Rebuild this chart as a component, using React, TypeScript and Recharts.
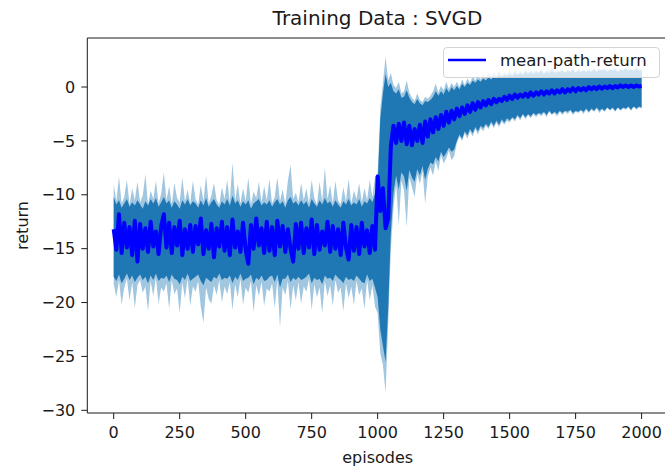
import { ComposedChart, Area, Line, XAxis, YAxis, Legend, Label, ReferenceLine } from 'recharts';

// episodes are logged every 10 steps, 0..2000
const EPISODE_STEP = 10;

// mean return per logged episode (rows of 100 episodes)
const meanReturn = [
  -13.2, -15.1, -11.8, -15.4, -12.6, -14.9, -13.0, -15.6, -12.4, -16.2,
  -12.7, -15.0, -13.1, -15.3, -12.5, -14.8, -13.4, -15.5, -12.9, -11.8,
  -14.9, -12.6, -15.4, -13.0, -14.7, -12.4, -15.6, -13.2, -15.0, -12.8,
  -15.3, -12.9, -14.6, -12.2, -15.5, -13.3, -15.0, -12.7, -15.8, -13.1,
  -14.8, -12.5, -15.2, -13.0, -15.6, -12.3, -14.9, -13.4, -15.3, -12.6,
  -15.1, -16.4, -12.8, -15.0, -12.2, -14.7, -13.1, -15.4, -12.5, -15.2,
  -13.0, -15.6, -12.4, -14.8, -12.9, -15.3, -13.2, -15.0, -16.2, -12.7,
  -15.0, -12.6, -15.4, -13.1, -14.9, -12.3, -15.5, -12.8, -15.1, -13.4,
  -14.7, -12.5, -15.3, -12.9, -15.0, -13.2, -15.6, -12.6, -14.9, -16.0,
  -12.8, -15.2, -13.0, -15.5, -12.6, -14.8, -13.3, -15.4, -12.9, -15.1,
  -8.3, -11.5, -9.4, -13.1, -12.2, -5.5, -3.6, -5.2, -3.4, -5.0,
  -3.3, -5.3, -3.6, -5.4, -3.9, -5.0, -3.5, -5.2, -3.2, -4.6,
  -3.0, -4.2, -2.8, -3.9, -2.6, -3.6, -2.3, -3.3, -2.2, -3.0,
  -2.0, -2.7, -1.9, -2.5, -1.7, -2.3, -1.5, -2.1, -1.4, -1.9,
  -1.3, -1.7, -1.2, -1.6, -1.1, -1.4, -1.1, -1.3, -0.9, -1.2,
  -0.8, -1.1, -0.7, -1.0, -0.7, -0.9, -0.6, -0.9, -0.5, -0.8,
  -0.5, -0.7, -0.4, -0.7, -0.4, -0.6, -0.3, -0.6, -0.3, -0.5,
  -0.2, -0.5, -0.2, -0.4, -0.1, -0.4, -0.1, -0.3, -0.1, -0.3,
  0.0, -0.2, 0.0, -0.2, 0.05, -0.15, 0.05, -0.1, 0.1, -0.1,
  0.1, -0.05, 0.15, 0.0, 0.15, 0.0, 0.15, 0.0, 0.15, 0.05,
  0.1,
];

// outer (spike) extent of the spread band
const spikeHigh = [
  -9.0, -10.6, -8.3, -10.8, -10.2, -8.6, -10.9, -9.4, -10.5, -8.8,
  -10.7, -10.1, -8.1, -10.9, -9.6, -10.4, -8.7, -10.8, -9.9, -7.9,
  -10.5, -9.2, -10.9, -8.9, -10.3, -10.7, -8.4, -10.6, -9.5, -10.8,
  -8.7, -10.4, -10.9, -9.1, -10.6, -8.2, -10.8, -10.1, -8.9, -10.5,
  -10.9, -9.3, -10.4, -8.6, -10.7, -7.0, -10.5, -9.0, -10.8, -9.4,
  -10.6, -8.4, -10.9, -9.7, -10.3, -8.8, -10.7, -9.2, -10.5, -8.5,
  -10.8, -10.2, -8.4, -10.6, -9.5, -10.9, -8.7, -7.2, -10.4, -9.8,
  -10.7, -8.9, -10.5, -9.4, -10.8, -8.6, -10.3, -10.9, -8.8, -10.6,
  -7.5, -10.4, -9.1, -10.8, -8.7, -10.5, -10.9, -9.3, -10.6, -8.5,
  -10.8, -9.6, -10.4, -8.9, -10.7, -9.4, -10.5, -8.6, -10.2, -8.3,
  -8.0, -2.0, 0.4, 2.8, 0.6, 1.3, 0.2, -0.1, 0.5, -0.6,
  -0.4, 0.6, -0.5, -1.0, -1.3, -0.6, -1.2, -1.4, -0.9, -1.1,
  -0.8, -0.4, 0.3, -0.5, 0.1, -0.3, 0.5, -0.2, 0.4, 0.0,
  0.5, 0.0, 0.7, 0.2, 0.8, 0.4, 1.0, 0.6, 1.1, 0.7,
  1.2, 0.8, 1.3, 0.9, 1.4, 1.0, 1.5, 1.1, 1.4, 1.2,
  1.5, 1.2, 1.6, 1.2, 1.5, 1.3, 1.7, 1.3, 1.6, 1.4,
  1.6, 1.4, 1.7, 1.3, 1.6, 1.5, 1.8, 1.4, 1.6, 1.5,
  1.7, 1.4, 1.6, 1.5, 1.8, 1.4, 1.7, 1.5, 1.6, 1.5,
  1.7, 1.5, 1.8, 1.5, 1.7, 1.6, 1.8, 1.5, 1.7, 1.6,
  1.8, 1.5, 1.7, 1.6, 1.8, 1.6, 1.7, 1.5, 1.8, 1.6,
  1.7,
];

const spikeLow = [
  -18.3, -19.5, -17.9, -20.2, -18.6, -17.8, -19.8, -18.1, -20.5, -18.4,
  -17.9, -19.1, -18.5, -20.8, -18.0, -19.4, -17.7, -20.1, -18.6, -19.0,
  -18.2, -20.6, -17.9, -19.2, -18.7, -21.0, -18.1, -19.6, -17.8, -20.3,
  -18.5, -19.0, -18.0, -20.4, -21.9, -18.6, -19.7, -20.1, -18.4, -19.3,
  -17.9, -20.0, -18.5, -19.2, -18.1, -20.7, -18.3, -19.5, -17.8, -20.2,
  -18.6, -19.1, -18.0, -20.9, -18.4, -19.4, -18.1, -20.3, -18.7, -19.0,
  -18.2, -20.5, -17.9, -22.3, -18.6, -19.3, -18.0, -20.6, -18.4, -19.8,
  -18.1, -20.1, -18.5, -19.0, -17.8, -20.7, -18.3, -19.5, -18.6, -21.0,
  -18.0, -19.4, -18.4, -20.3, -17.9, -19.1, -18.6, -20.8, -18.2, -19.6,
  -18.5, -20.2, -18.0, -19.3, -18.7, -20.6, -17.9, -19.8, -18.4, -20.4,
  -21.0, -24.7, -25.8, -28.4, -22.0, -15.0, -11.2, -9.0, -12.8, -8.7,
  -9.6, -13.0, -8.4, -9.3, -10.2, -8.1, -9.0, -7.8, -10.8, -8.3,
  -7.5, -8.2, -6.9, -7.8, -6.3, -7.1, -6.6, -5.9, -6.8, -6.4,
  -5.2, -4.6, -5.0, -4.3, -4.8, -4.1, -4.6, -3.9, -4.4, -3.8,
  -4.1, -3.6, -3.9, -3.4, -3.8, -3.3, -3.7, -3.2, -3.5, -3.1,
  -3.3, -2.9, -3.2, -2.7, -3.1, -2.6, -3.0, -2.6, -2.9, -2.5,
  -2.8, -2.5, -2.7, -2.4, -2.8, -2.3, -2.6, -2.4, -2.7, -2.3,
  -2.6, -2.3, -2.5, -2.2, -2.6, -2.3, -2.4, -2.2, -2.5, -2.1,
  -2.4, -2.1, -2.3, -2.0, -2.4, -2.1, -2.3, -1.9, -2.2, -2.0,
  -2.3, -1.9, -2.2, -2.0, -2.1, -1.9, -2.2, -1.8, -2.1, -1.9,
  -2.0,
];

// dense inner part of the spread band
const coreHigh = [
  -10.2, -10.9, -10.5, -11.2, -10.8, -10.4, -11.1, -10.7, -11.0, -10.5,
  -10.9, -11.3, -10.6, -11.0, -10.4, -10.8, -10.3, -11.1, -10.7, -10.2,
  -10.8, -10.5, -11.2, -10.6, -10.9, -11.3, -10.5, -10.9, -10.4, -11.0,
  -10.6, -10.8, -11.2, -10.5, -11.0, -10.3, -11.1, -10.7, -10.4, -10.9,
  -11.2, -10.6, -10.9, -10.4, -11.0, -10.1, -10.8, -10.5, -11.1, -10.6,
  -10.9, -10.5, -11.3, -10.8, -10.6, -10.4, -11.0, -10.7, -10.9, -10.5,
  -11.1, -10.7, -10.4, -10.9, -10.6, -11.2, -10.5, -10.2, -10.8, -10.6,
  -11.0, -10.5, -10.9, -10.6, -11.2, -10.4, -10.8, -11.1, -10.5, -10.9,
  -10.3, -10.8, -10.6, -11.1, -10.5, -10.9, -11.2, -10.6, -10.9, -10.4,
  -11.0, -10.7, -10.9, -10.4, -11.1, -10.6, -10.8, -10.3, -10.7, -9.9,
  -9.0, -3.0, -0.6, 1.2, 0.0, 0.4, -0.4, -0.6, -0.2, -1.0,
  -0.9, -0.3, -1.0, -1.4, -1.6, -1.1, -1.5, -1.7, -1.3, -1.4,
  -1.2, -0.9, -0.4, -0.8, -0.4, -0.7, -0.1, -0.5, 0.0, -0.3,
  0.1, -0.2, 0.3, 0.0, 0.4, 0.2, 0.6, 0.4, 0.7, 0.5,
  0.8, 0.6, 0.9, 0.7, 1.0, 0.8, 1.1, 0.9, 1.1, 1.0,
  1.2, 1.0, 1.3, 1.1, 1.3, 1.1, 1.4, 1.2, 1.4, 1.2,
  1.4, 1.3, 1.5, 1.2, 1.4, 1.3, 1.5, 1.3, 1.4, 1.4,
  1.5, 1.3, 1.5, 1.4, 1.6, 1.3, 1.5, 1.4, 1.5, 1.4,
  1.5, 1.4, 1.6, 1.4, 1.6, 1.5, 1.6, 1.4, 1.6, 1.5,
  1.6, 1.4, 1.6, 1.5, 1.7, 1.5, 1.6, 1.5, 1.7, 1.5,
  1.6,
];

const coreLow = [
  -17.6, -18.0, -17.4, -18.2, -17.8, -17.3, -17.9, -17.5, -18.1, -17.7,
  -17.4, -17.9, -17.6, -18.2, -17.5, -17.9, -17.3, -18.0, -17.7, -17.8,
  -17.5, -18.1, -17.4, -17.8, -17.9, -18.3, -17.6, -17.9, -17.3, -18.0,
  -17.8, -17.6, -17.4, -18.0, -18.4, -17.7, -17.9, -18.1, -17.6, -17.8,
  -17.3, -17.9, -17.7, -17.8, -17.5, -18.2, -17.6, -17.9, -17.3, -18.0,
  -17.8, -17.7, -17.4, -18.3, -17.7, -17.9, -17.5, -18.0, -17.9, -17.6,
  -17.5, -18.1, -17.4, -18.6, -17.8, -17.8, -17.4, -18.1, -17.7, -17.9,
  -17.6, -17.9, -17.8, -17.6, -17.3, -18.2, -17.7, -17.9, -17.8, -18.3,
  -17.5, -17.8, -17.7, -18.0, -17.4, -17.7, -17.9, -18.2, -17.6, -17.9,
  -17.8, -18.0, -17.5, -17.8, -18.1, -18.2, -17.4, -18.0, -17.8, -18.6,
  -19.5, -22.5, -24.0, -25.5, -20.5, -13.5, -9.8, -8.2, -9.5, -7.9,
  -8.3, -9.6, -7.7, -8.4, -8.8, -7.6, -8.2, -7.3, -8.6, -7.6,
  -7.0, -7.2, -6.5, -6.9, -6.0, -6.5, -6.1, -5.6, -6.0, -5.8,
  -5.0, -4.4, -4.8, -4.1, -4.5, -3.9, -4.3, -3.7, -4.1, -3.6,
  -3.8, -3.4, -3.7, -3.2, -3.6, -3.1, -3.5, -3.0, -3.3, -2.9,
  -3.1, -2.8, -3.0, -2.6, -2.9, -2.5, -2.8, -2.5, -2.7, -2.4,
  -2.6, -2.4, -2.5, -2.3, -2.6, -2.2, -2.5, -2.3, -2.5, -2.2,
  -2.4, -2.2, -2.3, -2.1, -2.4, -2.2, -2.3, -2.1, -2.3, -2.0,
  -2.3, -2.0, -2.2, -1.9, -2.2, -2.0, -2.2, -1.9, -2.1, -1.9,
  -2.2, -1.9, -2.1, -1.9, -2.0, -1.8, -2.1, -1.8, -2.0, -1.8,
  -1.9,
];

const xTicks = [0, 250, 500, 750, 1000, 1250, 1500, 1750, 2000];
const yTicks = [-30, -25, -20, -15, -10, -5, 0];
const X_DOMAIN: [number, number] = [-100, 2100];
const Y_DOMAIN: [number, number] = [-30.25, 4.55];

const data = meanReturn.map((mean, i) => ({
  episode: i * EPISODE_STEP,
  mean,
  spike: [spikeLow[i], spikeHigh[i]],
  core: [coreLow[i], coreHigh[i]],
}));

const FONT = '"DejaVu Sans", sans-serif';
const INK = '#1a1a1a';
const BAND = '#1f77b4';

const minusSign = (v: number) => String(v).replace('-', '\u2212');

function LegendBox() {
  return (
    <div
      style={{
        width: 217,
        height: 31,
        boxSizing: 'border-box',
        border: '1px solid #d4d4d4',
        borderRadius: 4,
        background: 'rgba(255,255,255,0.8)',
      }}
    >
      <svg width={215} height={29} style={{ display: 'block' }}>
        <line x1={4} x2={42} y1={12} y2={12} stroke="#0000ff" strokeWidth={2.5} />
        <text x={56} y={17.5} fontFamily={FONT} fontSize={16.5} fill={INK}>
          mean-path-return
        </text>
      </svg>
    </div>
  );
}

export default function App() {
  return (
    <div
      style={{
        position: 'absolute',
        left: 0,
        top: 0,
        width: 665,
        height: 468,
        overflow: 'hidden',
        background: '#fff',
        fontFamily: FONT,
      }}
    >
      <div
        style={{
          position: 'absolute',
          top: 8,
          left: 0,
          width: 755,
          textAlign: 'center',
          fontSize: 20,
          lineHeight: '20px',
          color: INK,
          whiteSpace: 'nowrap',
        }}
      >
        Training Data : SVGD
      </div>
      <ComposedChart
        width={668}
        height={468}
        data={data}
        margin={{ top: 38, right: 0, bottom: 0, left: 0 }}
      >
        <XAxis
          dataKey="episode"
          type="number"
          domain={X_DOMAIN}
          ticks={xTicks}
          allowDataOverflow
          height={55}
          tickSize={6}
          tickMargin={8}
          stroke={INK}
          tick={{ fill: INK, fontSize: 16, fontFamily: FONT }}
        >
          <Label
            value="episodes"
            position="insideBottom"
            offset={5}
            fill={INK}
            fontSize={16}
            fontFamily={FONT}
          />
        </XAxis>
        <YAxis
          type="number"
          domain={Y_DOMAIN}
          ticks={yTicks}
          allowDataOverflow
          width={87.3}
          tickSize={6}
          tickMargin={6}
          stroke={INK}
          tickFormatter={minusSign}
          tick={{ fill: INK, fontSize: 16, fontFamily: FONT }}
        >
          <Label
            value="return"
            angle={-90}
            position="center"
            dx={-21}
            fill={INK}
            fontSize={16}
            fontFamily={FONT}
          />
        </YAxis>
        {/* top frame line */}
        <ReferenceLine y={Y_DOMAIN[1]} stroke={INK} strokeWidth={1} ifOverflow="visible" />
        <Area
          dataKey="spike"
          type="linear"
          fill={BAND}
          fillOpacity={0.42}
          stroke="none"
          legendType="none"
          isAnimationActive={false}
          activeDot={false}
        />
        <Area
          dataKey="core"
          type="linear"
          fill={BAND}
          fillOpacity={1}
          stroke="none"
          legendType="none"
          isAnimationActive={false}
          activeDot={false}
        />
        <Line
          dataKey="mean"
          name="mean-path-return"
          type="linear"
          stroke="#0000ff"
          strokeWidth={4}
          strokeLinejoin="round"
          dot={false}
          activeDot={false}
          isAnimationActive={false}
        />
        <Legend
          layout="horizontal"
          verticalAlign="middle"
          align="center"
          content={() => <LegendBox />}
          wrapperStyle={{ top: 47, left: 443, width: 217, height: 31 }}
        />
      </ComposedChart>
    </div>
  );
}
